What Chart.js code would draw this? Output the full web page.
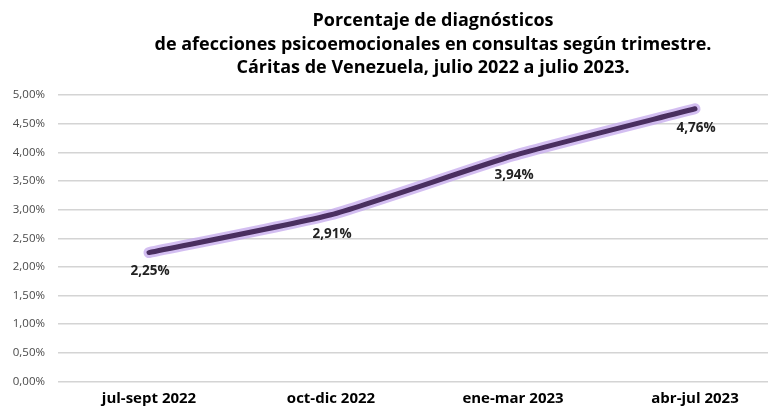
<!DOCTYPE html>
<html>
<head>
<meta charset="utf-8">
<script src="https://cdn.jsdelivr.net/npm/chart.js@4/dist/chart.umd.min.js"></script>
<style>
  html, body { margin: 0; padding: 0; background: #fff; overflow: hidden; }
  #wrap { width: 800px; height: 409px; position: relative; }
</style>
</head>
<body>
<div id="wrap"><canvas id="chart"></canvas></div>
<script>
// chart data
const trimestres = ['jul-sept 2022', 'oct-dic 2022', 'ene-mar 2023', 'abr-jul 2023'];
const porcentajes = [2.25, 2.91, 3.94, 4.76];
const tituloLineas = [
  'Porcentaje de diagnósticos',
  'de afecciones psicoemocionales en consultas según trimestre.',
  'Cáritas de Venezuela, julio 2022 a julio 2023.'
];

const fmt = v => v.toFixed(2).replace('.', ',') + '%';

// title drawn by hand so it sits where the original does
const titlePlugin = {
  id: 'titulo',
  afterDraw(chart) {
    const ctx = chart.ctx;
    ctx.save();
    ctx.fillStyle = '#000';
    ctx.font = 'bold 18px "Open Sans"';
    ctx.textAlign = 'center';
    ctx.textBaseline = 'middle';
    tituloLineas.forEach((t, i) => ctx.fillText(t, 433, 21 + i * 23.5));
    ctx.restore();
  }
};

// value labels below each point
const labelsPlugin = {
  id: 'etiquetas',
  afterDatasetsDraw(chart) {
    const ctx = chart.ctx;
    const meta = chart.getDatasetMeta(0);
    ctx.save();
    ctx.fillStyle = '#222';
    ctx.font = 'bold 13.5px "Open Sans"';
    ctx.textAlign = 'center';
    ctx.textBaseline = 'middle';
    meta.data.forEach((pt, i) => {
      ctx.fillText(fmt(porcentajes[i]), pt.x + 1, pt.y + 19);
    });
    ctx.restore();
  }
};

new Chart(document.getElementById('chart').getContext('2d'), {
  type: 'line',
  data: {
    labels: trimestres,
    datasets: [
      {
        data: porcentajes,
        borderColor: '#4a2f60',
        borderWidth: 5,
        borderCapStyle: 'round',
        tension: 0.18,
        pointRadius: 0,
        order: 1
      },
      {
        data: porcentajes,
        borderColor: 'rgba(196,168,236,0.75)',
        borderWidth: 11,
        borderCapStyle: 'round',
        tension: 0.18,
        pointRadius: 0,
        order: 2
      }
    ]
  },
  options: {
    responsive: true,
    maintainAspectRatio: false,
    animation: false,
    layout: { padding: { top: 95, right: 14, left: 0, bottom: 0 } },
    plugins: {
      legend: { display: false },
      tooltip: { enabled: false }
    },
    scales: {
      x: {
        offset: true,
        grid: { display: false, drawTicks: false },
        border: { display: false },
        ticks: {
          color: '#000',
          font: { family: 'Open Sans', size: 15, weight: 'bold' },
          padding: 8,
          maxRotation: 0
        },
        afterFit(scale) { scale.height = 27.5; }
      },
      y: {
        min: 0,
        max: 5,
        grid: { color: '#d4d4d4', lineWidth: 1.5, drawTicks: false },
        border: { display: false },
        ticks: {
          stepSize: 0.5,
          color: '#4a4a4a',
          font: { family: 'Open Sans', size: 11.5 },
          padding: 13,
          callback: v => fmt(v)
        },
        afterFit(scale) { scale.width = 58; }
      }
    }
  },
  plugins: [titlePlugin, labelsPlugin]
});
</script>
</body>
</html>
